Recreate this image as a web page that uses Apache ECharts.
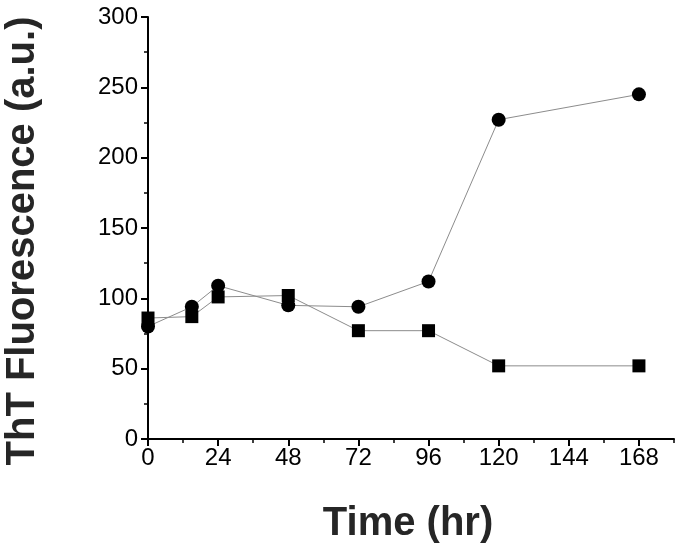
<!DOCTYPE html>
<html>
<head>
<meta charset="utf-8">
<script src="https://cdn.jsdelivr.net/npm/echarts@6/dist/echarts.min.js"></script>
<style>
  html, body { margin: 0; padding: 0; background: #fff; }
  #chart { width: 682px; height: 553px; }
</style>
</head>
<body>
<div id="chart"></div>
<script>
// sampling times (hr)
const timeHours = [0, 15, 24, 48, 72, 96, 120, 168];
// ThT readings
const circleValues = [80, 94, 109, 95, 94, 112, 227, 245];
const squareValues = [86, 87, 101, 102, 77, 77, 52, 52];
const xMajorTicks = [0, 24, 48, 72, 96, 120, 144, 168];

const FONT = "'Liberation Sans', Arial, sans-serif";
const pairs = (xs, ys) => xs.map((x, i) => [x, ys[i]]);

const chart = echarts.init(document.getElementById("chart"), null, { renderer: "canvas" });

const baseX = {
  type: "value",
  min: 0,
  max: 180,
  position: "bottom",
  splitLine: { show: false }
};

chart.setOption({
  animation: false,
  backgroundColor: "#fff",
  grid: { left: 148, right: 8, top: 17, bottom: 114 },
  xAxis: [
    {
      ...baseX,
      interval: 12,
      axisLine: { show: true, lineStyle: { color: "#000", width: 2 } },
      axisTick: { show: true, length: 4, lineStyle: { color: "#000", width: 1.5 } },
      axisLabel: { show: false }
    },
    {
      ...baseX,
      interval: 24,
      axisLine: { show: false },
      axisTick: { show: true, length: 7, customValues: xMajorTicks, lineStyle: { color: "#000", width: 2 } },
      axisLabel: {
        customValues: xMajorTicks,
        color: "#000",
        fontSize: 24,
        fontFamily: FONT,
        margin: 7
      }
    }
  ],
  yAxis: {
    type: "value",
    min: 0,
    max: 300,
    interval: 50,
    splitLine: { show: false },
    axisLine: { show: true, lineStyle: { color: "#000", width: 2 } },
    axisTick: { show: true, length: 7, lineStyle: { color: "#000", width: 2 } },
    minorTick: { show: true, splitNumber: 2, length: 4, lineStyle: { color: "#000", width: 1.5 } },
    axisLabel: { color: "#000", fontSize: 24, fontFamily: FONT, margin: 10 }
  },
  graphic: [
    {
      type: "text",
      x: 23,
      y: 241,
      rotation: Math.PI / 2,
      style: {
        text: "ThT Fluorescence (a.u.)",
        font: "bold 40px " + FONT,
        fill: "#262626",
        align: "center",
        verticalAlign: "middle"
      }
    },
    {
      type: "text",
      x: 408,
      y: 524,
      style: {
        text: "Time (hr)",
        font: "bold 40px " + FONT,
        fill: "#262626",
        align: "center",
        verticalAlign: "middle"
      }
    }
  ],
  series: [
    {
      name: "squares",
      type: "line",
      xAxisIndex: 0,
      data: pairs(timeHours, squareValues),
      symbol: "rect",
      symbolSize: 13,
      itemStyle: { color: "#000" },
      lineStyle: { color: "#8c8c8c", width: 1 }
    },
    {
      name: "circles",
      type: "line",
      xAxisIndex: 0,
      data: pairs(timeHours, circleValues),
      symbol: "circle",
      symbolSize: 14,
      itemStyle: { color: "#000" },
      lineStyle: { color: "#8c8c8c", width: 1 }
    }
  ]
});
</script>
</body>
</html>
